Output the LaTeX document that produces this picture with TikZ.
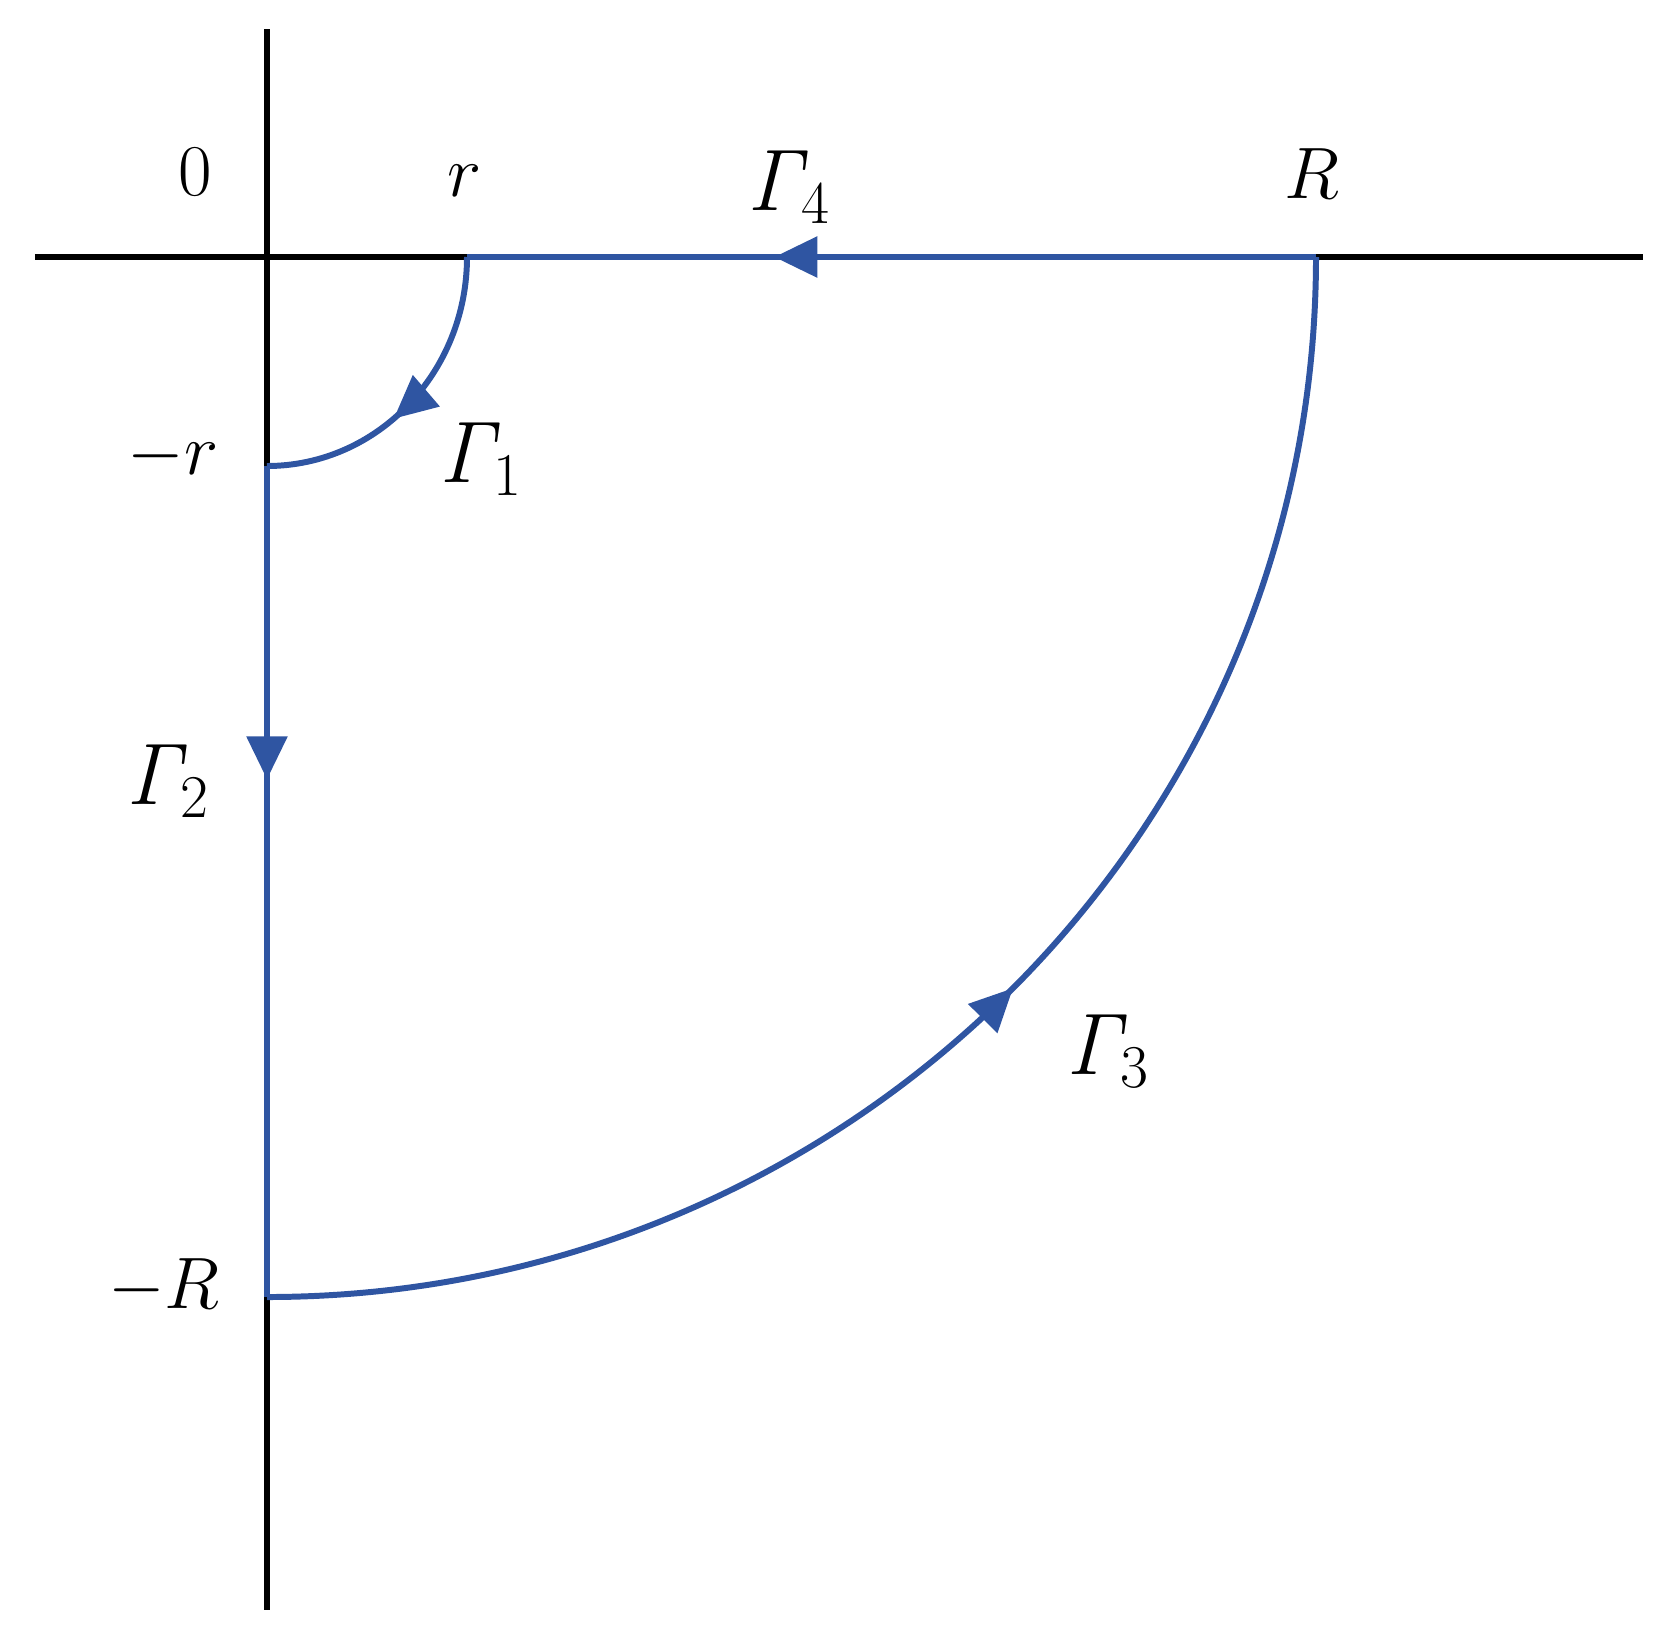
\documentclass[tikz,border=0pt]{standalone}
\usepackage{amsmath}
\usepackage{tikz}
\usetikzlibrary{arrows.meta, decorations.markings}
\definecolor{contour}{RGB}{47,85,162}

\begin{document}
\begin{tikzpicture}[
            axis/.style={line width=1.7pt, black},
            curve/.style={line width=1.7pt, draw=contour},
            midarrow/.style={postaction={decorate}, decoration={markings,
                mark=at position #1 with {\arrow{Triangle[length=0.43cm, width=0.40cm, fill=contour]}}}},
            lab/.style={font=\fontsize{20}{24}\selectfont, inner sep=0pt},
            glab/.style={font=\fontsize{24}{28}\selectfont, inner sep=0pt}
        ]

        \useasboundingbox (-2.67,-13.79) rectangle (14.08,2.57);

        % coordinates
        \coordinate (O)  at (0,0);
        \coordinate (r)  at (2.0,0);
        \coordinate (R)  at (10.49,0);
        \coordinate (mr) at (0,-2.09);
        \coordinate (mR) at (0,-10.40);

        \coordinate (xl) at (-2.32,0);
        \coordinate (xr) at (13.76,0);
        \coordinate (yt) at (0,2.28);
        \coordinate (yb) at (0,-13.53);

        % axes
        \draw[axis] (xl) -- (xr);
        \draw[axis] (yt) -- (yb);

        % contour
        \draw[curve, midarrow=0.57] (r) arc[start angle=0, end angle=-90, x radius=2.0, y radius=2.09];
        \draw[curve, midarrow=0.377] (mr) -- (mR);
        \draw[curve, midarrow=0.505] (mR) arc[start angle=-90, end angle=0, x radius=10.49, y radius=10.40];
        \draw[curve, midarrow=0.638] (R) -- (r);

        % labels
        \node[lab] (l0)  at (-0.72,0.85)   {$0$};
        \node[lab] (lr)  at (1.98,0.76)    {$r$};
        \node[lab] (lR)  at (10.45,0.83)   {$R$};
        \node[lab] (lmr) at (-0.94,-1.99)  {$-r$};
        \node[lab] (lmR) at (-1.03,-10.30) {$-R$};

        \node[glab] (g1) at (2.14,-2.02)  {$\mathit{\Gamma}_1$};
        \node[glab] (g2) at (-0.99,-5.24) {$\mathit{\Gamma}_2$};
        \node[glab] (g3) at (8.41,-7.94)  {$\mathit{\Gamma}_3$};
        \node[glab] (g4) at (5.22,0.70)   {$\mathit{\Gamma}_4$};
    \end{tikzpicture}
\end{document}
